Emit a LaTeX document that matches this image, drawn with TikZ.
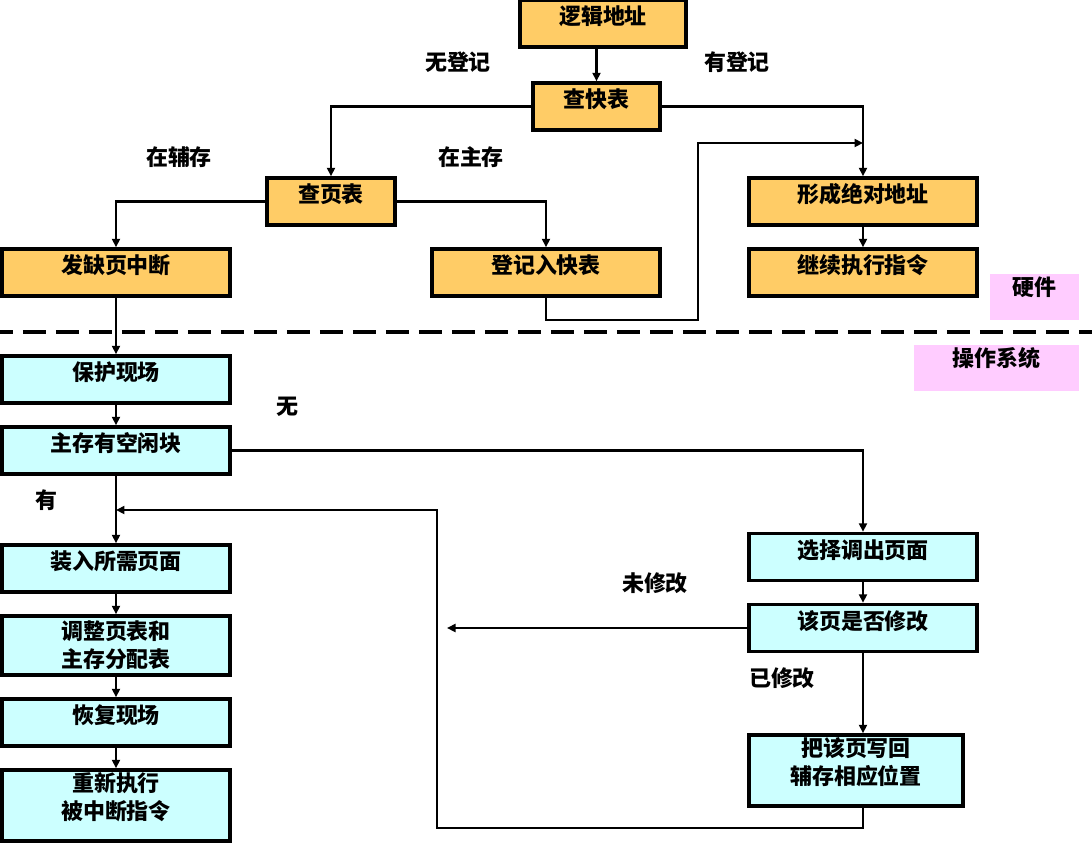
\documentclass[tikz,border=0pt]{standalone}
\usepackage{fontspec}
\setmainfont{Noto Sans CJK SC}
\usetikzlibrary{arrows.meta}
\definecolor{hwfill}{HTML}{FFCC66}
\definecolor{osfill}{HTML}{CCFFFF}
\definecolor{tagfill}{HTML}{FFCCFF}
\begin{document}
\begin{tikzpicture}[x=0.02cm,y=-0.02cm,line width=1.4pt,
    txt/.style={font=\fontsize{12.5}{16}\selectfont\bfseries},
    box/.style={txt,draw,line width=2pt,inner sep=0pt,minimum width=4.56cm,text height=0.49cm,text depth=0.45cm},
    hwbox/.style={box,fill=hwfill},
    osbox/.style={box,fill=osfill},
    twoline/.style={align=center,text height=0.99cm},
    tag/.style={txt,fill=tagfill,inner sep=0pt,text height=0.43cm,text depth=0.49cm},
    lbl/.style={txt,inner sep=0pt},
    flow/.style={-{Triangle[length=1.7mm,width=1.6mm]}}]
    \useasboundingbox (0,0) rectangle (1092,843);
    \node[hwbox,minimum width=3.32cm] (logic) at (603,23.5) {逻辑地址};
    \node[hwbox,minimum width=2.54cm] (tlb) at (596.5,106.5) {查快表};
    \node[hwbox,minimum width=2.56cm] (pt) at (331,201.5) {查页表};
    \node[hwbox] (fault) at (116,272.5) {发缺页中断};
    \node[hwbox] (reg) at (546,272.5) {登记入快表};
    \node[hwbox] (abs) at (863,201.5) {形成绝对地址};
    \node[hwbox] (cont) at (863,272.5) {继续执行指令};
    \node[tag,minimum width=1.78cm] (hw) at (1034.5,297) {硬件};
    \node[tag,minimum width=3.3cm] (os) at (996.5,368) {操作系统};
    \node[osbox] (save) at (116,379.5) {保护现场};
    \node[osbox] (free) at (116,450.5) {主存有空闲块};
    \node[osbox] (load) at (116,568.5) {装入所需页面};
    \node[osbox,twoline,text height=1.03cm,text depth=0.15cm] (adjust) at (116,645.5) {调整页表和\\主存分配表};
    \node[osbox] (restore) at (116,722.5) {恢复现场};
    \node[osbox,twoline,text depth=0.43cm] (rerun) at (116,805.5) {重新执行\\被中断指令};
    \node[osbox] (pick) at (863,557) {选择调出页面};
    \node[osbox] (dirty) at (863,628) {该页是否修改};
    \node[osbox,twoline,minimum width=4.28cm,text depth=0.43cm] (back) at (856,770.5) {把该页写回\\辅存相应位置};
    \node[lbl] (noreg) at (458,62) {无登记};
    \node[lbl] (hasreg) at (737,62) {有登记};
    \node[lbl] (insec) at (179,157) {在辅存};
    \node[lbl] (inmain) at (471,157) {在主存};
    \node[lbl] (none) at (287,407) {无};
    \node[lbl] (have) at (46,500) {有};
    \node[lbl] (clean) at (655,583) {未修改};
    \node[lbl] (mod) at (782,678) {已修改};
    \coordinate (lt) at (0,332);
    \coordinate (rt) at (1092,332);
    \coordinate (regturn) at (698,320);
    \coordinate (reghit) at (698,143);
    \coordinate (retcorner) at (437,828);
    \coordinate (rettop) at (437,510);
    \coordinate (cleanend) at (447,628);
    \draw [line width=1.8pt,dash pattern=on 0.46cm off 0.2cm,dash phase=0.2cm] (lt) -- (rt);
    \draw [flow] (tlb.north |- logic.south) -- (tlb.north);
    \draw [flow] (tlb.west) -| (pt.north);
    \draw [flow] (tlb.east) -| (abs.north);
    \draw [flow] (pt.west) -| (fault.north);
    \draw [flow] (pt.east) -| (reg.north);
    \draw [flow] (reg.south) |- (regturn) -- (reghit) -- (reghit -| abs.north);
    \draw [flow] (abs) -- (cont);
    \draw [flow] (fault) -- (save);
    \draw [flow] (save) -- (free);
    \draw [flow] (free) -- (load);
    \draw [flow] (load) -- (adjust);
    \draw [flow] (adjust) -- (restore);
    \draw [flow] (restore) -- (rerun);
    \draw [flow] (free.east) -| (pick.north);
    \draw [flow] (pick) -- (dirty);
    \draw [flow] (dirty.west) -- (cleanend);
    \draw [flow] (dirty.south) -- (dirty.south |- back.north);
    \draw [flow] (dirty.south |- back.south) -- (dirty.south |- retcorner) -- (retcorner) -- (rettop) -- (rettop -| load.north);
\end{tikzpicture}
\end{document}
